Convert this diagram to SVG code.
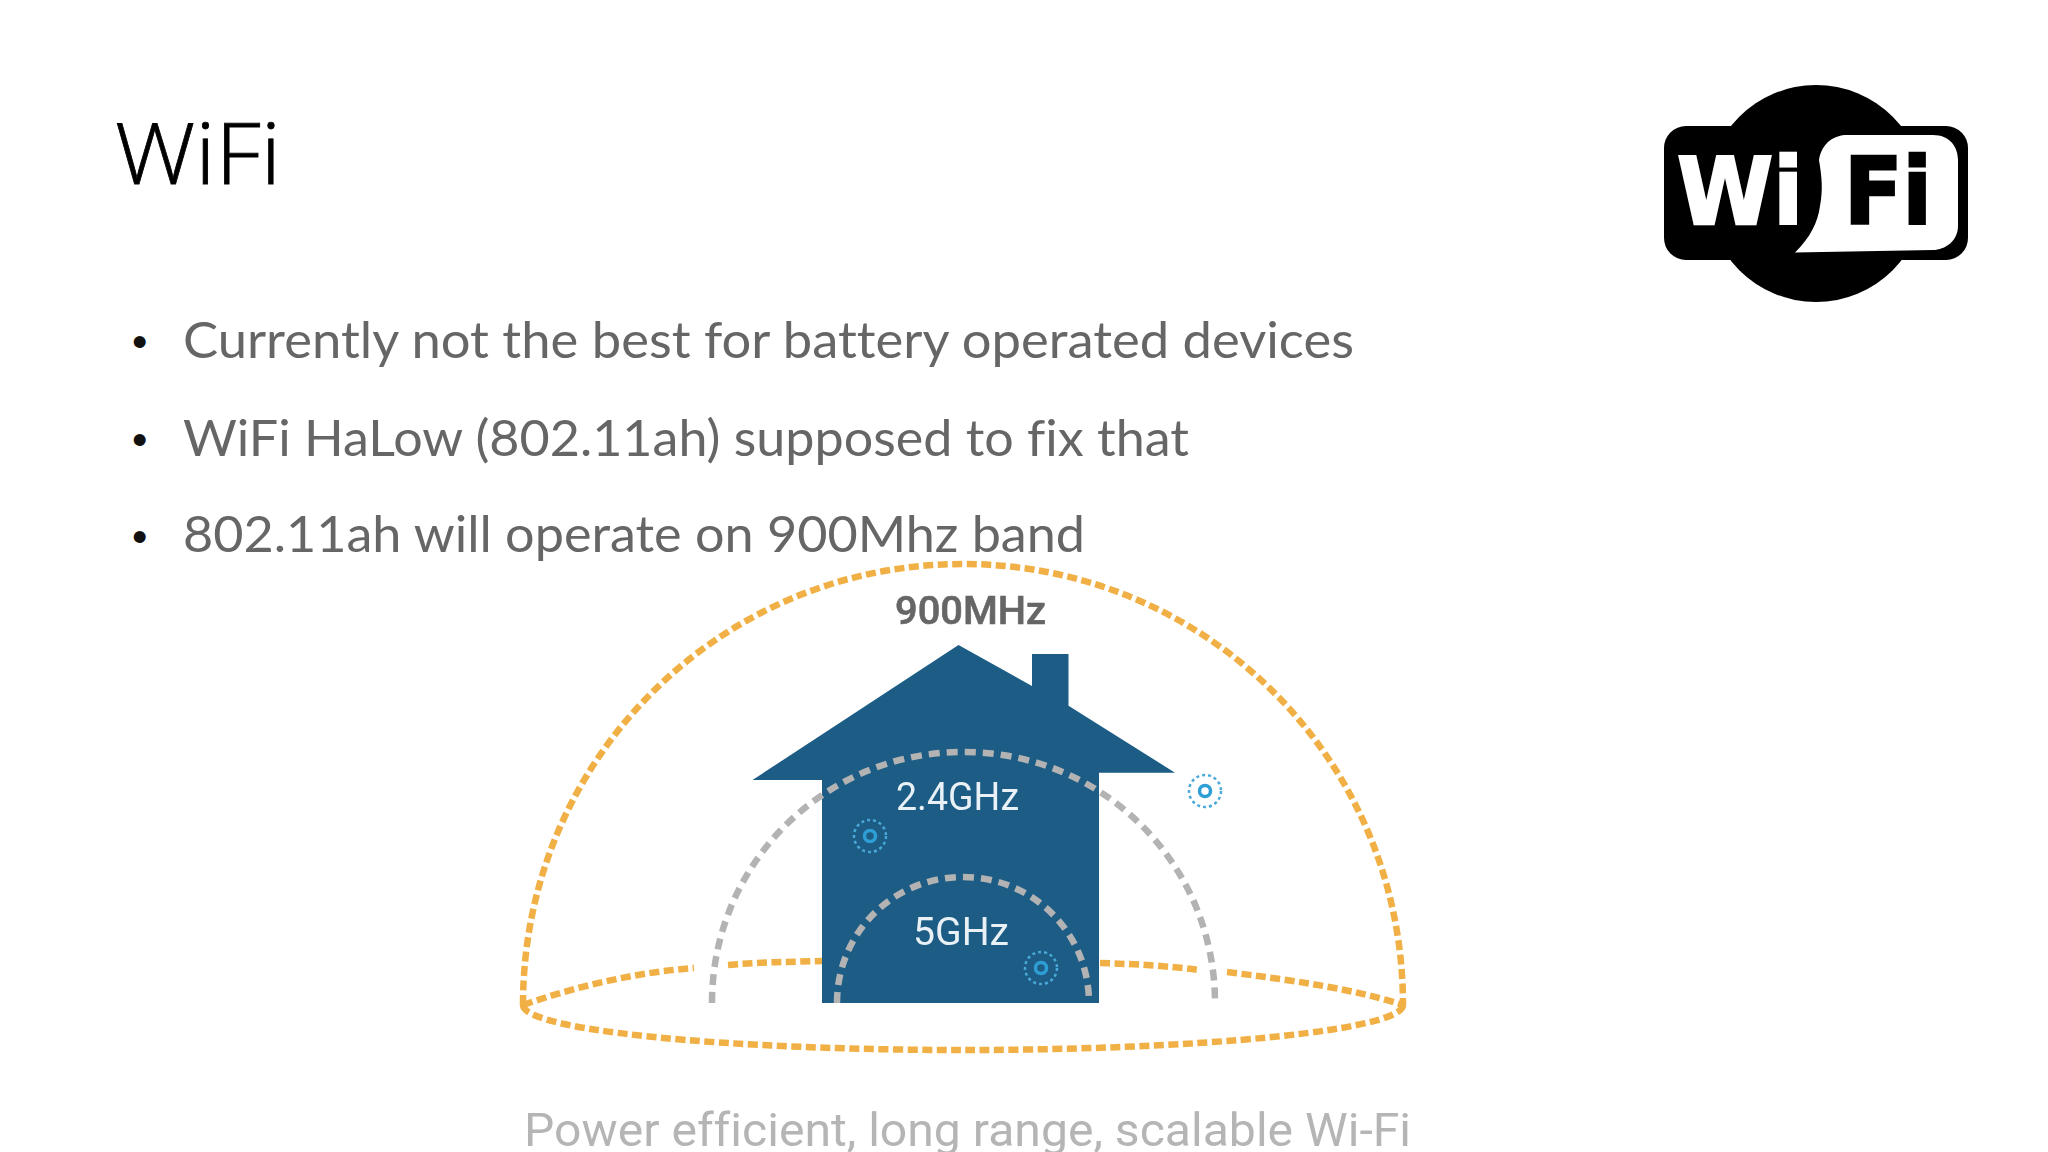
<svg xmlns="http://www.w3.org/2000/svg" width="2048" height="1152" viewBox="0 0 2048 1152">
<style>
text{font-variant-ligatures:none}
.body{font-family:Lato,"Liberation Sans",sans-serif;font-size:51px;fill:#666}
.bullet{font-family:"Liberation Sans",Arial,sans-serif;font-size:44px;fill:#111}
.band{font-family:Roboto,"Liberation Sans",sans-serif;font-size:38px;fill:#e9f1f6}
.orange{fill:none;stroke:#f1b044;stroke-width:6.5;stroke-dasharray:10 4.5}
.gray{fill:none;stroke:#b3b3b3;stroke-width:6.5;stroke-dasharray:11 7}
.core{fill:none;stroke:#2f9fd6;stroke-width:3.5}
.halo{fill:none;stroke:#4aa9d8;stroke-width:2.5;stroke-dasharray:3 3}
</style>
<defs>
<g id="signal"><circle class="core" r="5.5"/><circle class="halo" r="16"/></g>
<filter id="soft" x="-5%" y="-5%" width="110%" height="110%"><feGaussianBlur stdDeviation="0.6"/></filter>
</defs>
<rect width="2048" height="1152" fill="#fff"/>
<g id="title"><text x="115" y="184" font-family="'Open Sans','Noto Sans',sans-serif" font-weight="300" font-size="84" fill="#000" stroke="#000" stroke-width="0.8" textLength="166" lengthAdjust="spacingAndGlyphs">WiFi</text></g>
<g id="bullets">
<text class="bullet" x="132" y="357">•</text>
<text class="body" x="183" y="358" textLength="1171" lengthAdjust="spacingAndGlyphs">Currently not the best for battery operated devices</text>
<text class="bullet" x="132" y="455">•</text>
<text class="body" x="183" y="456" textLength="1006" lengthAdjust="spacingAndGlyphs">WiFi HaLow (802.11ah) supposed to fix that</text>
<text class="bullet" x="132" y="552">•</text>
<text class="body" x="183" y="552" textLength="902" lengthAdjust="spacingAndGlyphs">802.11ah will operate on 900Mhz band</text>
</g>
<g id="logo" filter="url(#soft)">
<circle cx="1816" cy="193.5" r="108.5" fill="#000"/>
<rect x="1664" y="126" width="304" height="134" rx="22" fill="#000"/>
<path d="M1795 252.5C1810 238 1818 222 1820 206C1823 190 1822 178 1819 160C1822 142 1835 135 1847 135L1933 135C1949 135 1958 146 1958 160L1958 226C1958 241 1945 250 1933 250Z" fill="#fff"/>
<text x="1677" y="224" font-family="'DejaVu Sans',sans-serif" font-weight="700" font-size="92" fill="#fff" stroke="#fff" stroke-width="2.5" textLength="126" lengthAdjust="spacingAndGlyphs">Wi</text>
<text x="1844" y="224" font-family="'DejaVu Sans',sans-serif" font-weight="700" font-size="92" fill="#000" stroke="#000" stroke-width="2.5" textLength="88" lengthAdjust="spacingAndGlyphs">Fi</text>
</g>
<g id="range-900mhz" filter="url(#soft)">
<path class="orange" d="M523 1005C523 760 720 564 963 564C1206 564 1403 760 1403 1005"/>
<path class="orange" d="M523 1005A440 45 0 0 0 1403 1005"/>
<path class="orange" d="M523 1005C580 985 640 972 694 968"/>
<path class="orange" d="M728 965C760 962 790 962 822 961"/>
<path class="orange" d="M1100 963C1135 964 1170 966 1198 970"/>
<path class="orange" d="M1227 972C1290 980 1350 988 1403 1005"/>
</g>
<g id="house" filter="url(#soft)">
<path d="M958.5 645L1032 686V654H1068.5V705.7L1175 772.7H1099V1003H822V780H752.5Z" fill="#1b5c85"/>
</g>
<g id="range-24ghz" filter="url(#soft)"><path class="gray" d="M712 1003C712 864 824 752 963.5 752C1103 752 1215 864 1215 1003"/></g>
<g id="range-5ghz" filter="url(#soft)"><path class="gray" d="M837 1003C837 933 893 877 963 877C1033 877 1089 933 1089 1003"/></g>
<g id="signals" filter="url(#soft)">
<use href="#signal" x="1205" y="791"/>
<use href="#signal" x="870" y="836"/>
<use href="#signal" x="1041" y="968"/>
</g>
<g id="labels">
<text x="895" y="624" font-family="Roboto,'Liberation Sans',sans-serif" font-weight="500" font-size="38" fill="#666" stroke="#666" stroke-width="0.6" textLength="151" lengthAdjust="spacingAndGlyphs">900MHz</text>
<text class="band" x="896" y="810" textLength="123" lengthAdjust="spacingAndGlyphs">2.4GHz</text>
<text class="band" x="913" y="945" textLength="96" lengthAdjust="spacingAndGlyphs">5GHz</text>
<text x="524" y="1146" font-family="Roboto,'Liberation Sans',sans-serif" font-size="46" fill="#b5b5b5" textLength="887" lengthAdjust="spacingAndGlyphs">Power efficient, long range, scalable Wi-Fi</text>
</g>
</svg>
